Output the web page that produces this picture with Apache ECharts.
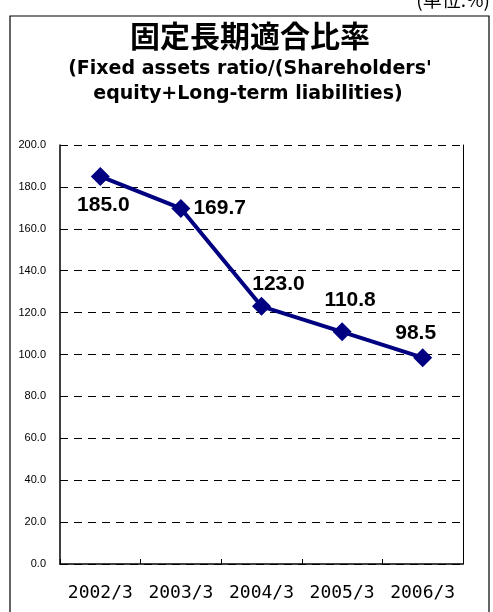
<!DOCTYPE html>
<html>
<head>
<meta charset="utf-8">
<script src="https://cdn.jsdelivr.net/npm/echarts@6/dist/echarts.min.js"></script>
<style>
  html, body { margin: 0; padding: 0; background: #fff; }
  #chart { width: 493px; height: 612px; }
</style>
</head>
<body>
<div id="chart"></div>
<script>
// データ
const categories = ['2002/3', '2003/3', '2004/3', '2005/3', '2006/3'];
const ratioValues = [185.0, 169.7, 123.0, 110.8, 98.5];
const yTicks = { min: 0, max: 200, interval: 20 };

// ラベル位置（各点ごと）
const labelPlace = [
  { position: 'bottom', offset: [3, 4] },
  { position: 'right', offset: [-2, 0] },
  { position: 'top', offset: [17, 3] },
  { position: 'top', offset: [8, -7] },
  { position: 'top', offset: [-7, 1] }
];

const chart = echarts.init(document.getElementById('chart'));

const option = {
  backgroundColor: '#fff',
  animation: false,
  graphic: [
    {
      type: 'rect',
      shape: { x: 10, y: 16, width: 479, height: 620 },
      style: { fill: 'none', stroke: '#000', lineWidth: 1.2 }
    },
    {
      type: 'text',
      x: 490, y: -10,
      style: { text: '(単位:%)', font: '19px "Noto Sans CJK JP"', fill: '#000', align: 'right' }
    },
    {
      type: 'text',
      x: 250, y: 36,
      style: {
        text: '固定長期適合比率', font: 'bold 30px "Noto Sans CJK JP"', fill: '#000',
        align: 'center', verticalAlign: 'middle'
      }
    },
    {
      type: 'text',
      x: 250, y: 69,
      style: {
        text: '(Fixed assets ratio/(Shareholders\'', font: 'bold 19px "DejaVu Sans"', fill: '#000',
        align: 'center', verticalAlign: 'middle'
      }
    },
    {
      type: 'text',
      x: 248, y: 94,
      style: {
        text: 'equity+Long-term liabilities)', font: 'bold 19px "DejaVu Sans"', fill: '#000',
        align: 'center', verticalAlign: 'middle'
      }
    }
  ],
  grid: { left: 60, right: 30, top: 145, bottom: 48, containLabel: false },
  xAxis: {
    type: 'category',
    data: categories,
    boundaryGap: true,
    axisLine: { lineStyle: { color: '#000', width: 1.5 } },
    axisTick: { show: true, inside: true, length: 5, interval: 0, lineStyle: { color: '#000' } },
    axisLabel: { color: '#000', fontSize: 18, margin: 20, interval: 0, hideOverlap: false, fontFamily: 'DejaVu Sans Mono' }
  },
  yAxis: [
    {
      type: 'value',
      min: yTicks.min, max: yTicks.max, interval: yTicks.interval,
      axisLine: { show: true, lineStyle: { color: '#000', width: 1.5 } },
      axisTick: { show: false },
      axisLabel: {
        color: '#000', fontSize: 11, margin: 14, fontFamily: 'Liberation Sans',
        formatter: (v) => v.toFixed(1)
      },
      splitLine: { show: true, lineStyle: { color: '#000', type: [8, 6], width: 1 } }
    },
    {
      type: 'value',
      position: 'right',
      min: yTicks.min, max: yTicks.max, interval: yTicks.interval,
      axisLine: { show: true, lineStyle: { color: '#000', width: 1 } },
      axisTick: { show: false },
      axisLabel: { show: false },
      splitLine: { show: false }
    }
  ],
  series: [
    {
      type: 'line',
      data: ratioValues.map((v, i) => ({
        value: v,
        label: {
          show: true,
          position: labelPlace[i].position,
          offset: labelPlace[i].offset,
          formatter: (p) => p.value.toFixed(1)
        }
      })),
      symbol: 'diamond',
      symbolSize: 19,
      lineStyle: { color: '#000080', width: 4 },
      itemStyle: { color: '#000080' },
      label: {
        color: '#000', fontSize: 21, fontWeight: 'bold', fontFamily: 'Liberation Sans Narrow, Liberation Sans'
      }
    }
  ]
};

chart.setOption(option);
</script>
</body>
</html>
